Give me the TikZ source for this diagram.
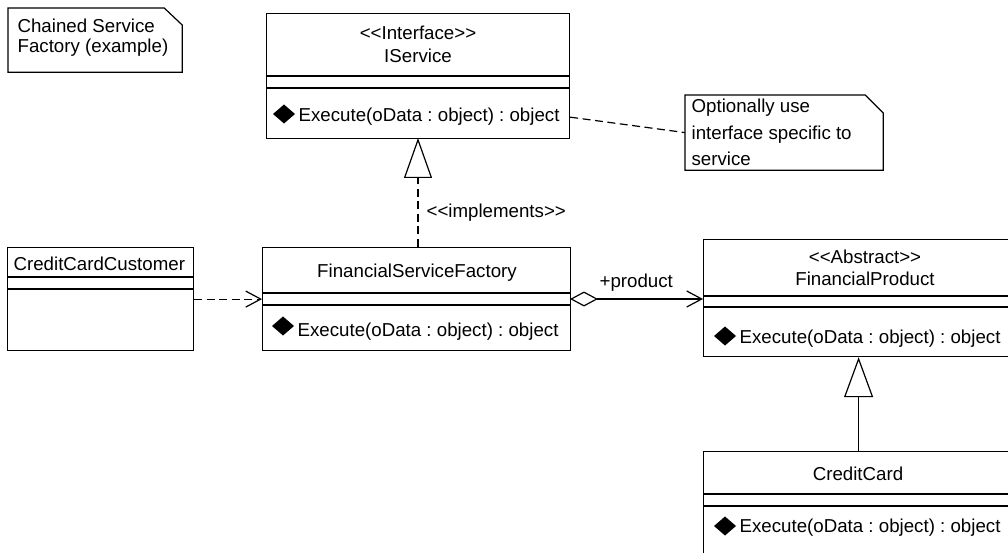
\documentclass[tikz,border=0pt]{standalone}
\usepackage{fontspec}
\setmainfont{Liberation Sans}
\usetikzlibrary{arrows.meta}
\frenchspacing
\begin{document}
\begin{tikzpicture}[x=1pt,y=-1pt,line width=1.2pt,
  txt/.style={inner sep=0pt,font=\fontsize{18.7}{22}\selectfont},
  classbox/.style={draw,rectangle,inner sep=0pt,anchor=north west},
  notebox/.style={rectangle,inner sep=0pt,anchor=north west},
  dashline/.style={dash pattern=on 8pt off 4.5pt},
  opmark/.pic={\fill (-11,0) -- (0,-9.5) -- (11,0) -- (0,9.5) -- cycle;},
  realize/.style={dashline,-{Triangle[open,length=40pt,width=28pt]}},
  inherit/.style={-{Triangle[open,length=40pt,width=29pt]}},
  depend/.style={dashline,-{Straight Barb[length=15pt,width=16pt,line width=1.2pt]}},
  aggreg/.style={{Diamond[open,length=28pt,width=15pt]}-{Straight Barb[length=15pt,width=16pt,line width=1.2pt]}}
]
\useasboundingbox (0,0) rectangle (1008,553);
\clip (0,0) rectangle (1008,553);

% --- notes ---
\node[notebox,minimum width=173pt,minimum height=63pt] (note1) at (8,8) {};
\draw (note1.south west) -- (note1.north west) -- ([xshift=-18pt]note1.north east)
      -- ([yshift=-17pt]note1.north east) -- (note1.south east) -- cycle;
\node[txt,anchor=base west] (note1a) at (17,33) {Chained Service};
\node[txt,anchor=base west] (note1b) at (17,53) {Factory (example)};

\node[notebox,minimum width=197pt,minimum height=74pt] (note2) at (685,95) {};
\draw (note2.south west) -- (note2.north west) -- ([xshift=-18pt]note2.north east)
      -- ([yshift=-18pt]note2.north east) -- (note2.south east) -- cycle;
\node[txt,anchor=base west] (note2a) at (691,113) {Optionally use};
\node[txt,anchor=base west] (note2b) at (691,140) {interface specific to};
\node[txt,anchor=base west] (note2c) at (691,166) {service};

% --- IService ---
\node[classbox,minimum width=303pt,minimum height=125pt] (iservice) at (266,13) {};
\draw (iservice.west |- 0,76) -- (iservice.east |- 0,76);
\draw (iservice.west |- 0,88) -- (iservice.east |- 0,88);
\node[txt,anchor=base] (iservicest) at (418,40) {<{}<Interface>{}>};
\node[txt,anchor=base] (iservicenm) at (418,63) {IService};
\pic at (284,114) {opmark};
\node[txt,anchor=base west] (iserviceop) at (298,122) {Execute(oData : object) : object};

% --- CreditCardCustomer ---
\node[classbox,minimum width=186pt,minimum height=103pt] (ccc) at (7,247) {};
\draw (ccc.west |- 0,277) -- (ccc.east |- 0,277);
\draw (ccc.west |- 0,289) -- (ccc.east |- 0,289);
\node[txt,anchor=base west] (cccnm) at (13,270) {CreditCardCustomer};

% --- FinancialServiceFactory ---
\node[classbox,minimum width=308pt,minimum height=103pt] (fsf) at (262,247) {};
\draw (fsf.west |- 0,293) -- (fsf.east |- 0,293);
\draw (fsf.west |- 0,305) -- (fsf.east |- 0,305);
\node[txt,anchor=base] (fsfnm) at (417,277) {FinancialServiceFactory};
\pic at (283,326) {opmark};
\node[txt,anchor=base west] (fsfop) at (297,336) {Execute(oData : object) : object};

% --- FinancialProduct ---
\node[classbox,minimum width=324pt,minimum height=117pt] (fp) at (703,239) {};
\draw (fp.west |- 0,296) -- (fp.east |- 0,296);
\draw (fp.west |- 0,307) -- (fp.east |- 0,307);
\node[txt,anchor=base] (fpst) at (865,263) {<{}<Abstract>{}>};
\node[txt,anchor=base] (fpnm) at (865,285) {FinancialProduct};
\pic at (725,336) {opmark};
\node[txt,anchor=base west] (fpop) at (739,343) {Execute(oData : object) : object};

% --- CreditCard ---
\node[classbox,minimum width=310pt,minimum height=130pt] (cc) at (703,451) {};
\draw (cc.west |- 0,494) -- (cc.east |- 0,494);
\draw (cc.west |- 0,506) -- (cc.east |- 0,506);
\node[txt,anchor=base] (ccnm) at (858,480) {CreditCard};
\pic at (725,526) {opmark};
\node[txt,anchor=base west] (ccop) at (739,532) {Execute(oData : object) : object};

% --- relations ---
\draw[realize] (418,247) -- (418,138);
\node[txt,anchor=base west] (impl) at (426,218) {<{}<implements>{}>};
\draw[depend] (ccc.east) -- (fsf.west);
\draw[aggreg] (570,299) -- (703,299);
\node[txt,anchor=base west] (prod) at (599,287) {+product};
\draw[inherit] (cc.north) -- (cc.north |- fp.south);
\draw[dashline] (iservice.east |- iserviceop) -- (note2.west);
\end{tikzpicture}
\end{document}
